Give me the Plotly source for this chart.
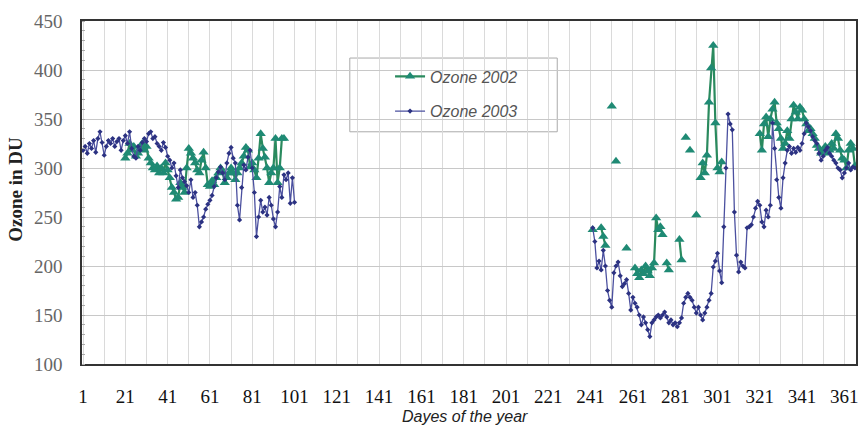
import plotly.graph_objects as go

# ---------------- data ----------------
# Ozone 2003 (days 1-101)
o3_left_start = 1
o3_left = [318, 322, 315, 325, 320, 328, 316, 330, 337, 326,
           313, 322, 328, 325, 330, 322, 327, 330, 318, 328,
           333, 325, 337, 320, 312, 310, 322, 318, 326, 330,
           327, 335, 337, 330, 332, 325, 322, 318, 326, 321,
           312, 308, 300, 305, 292, 280, 298, 290, 286, 282,
           275, 288, 270, 275, 262, 240, 245, 250, 258, 263,
           267, 272, 281, 290, 296, 301, 295, 288, 305, 315,
           321, 310, 305, 262, 247, 280, 303, 298, 311, 318,
           300, 275, 230, 250, 267, 255, 260, 252, 270, 262,
           248, 240, 255, 281, 270, 293, 288, 295, 264, 290, 265]
# Ozone 2003 (days 242-366)
o3_right_start = 242
o3_right = [239, 225, 198, 205, 196, 216, 200, 175, 165, 158,
            193, 200, 204, 190, 179, 182, 186, 172, 155, 168,
            162, 158, 150, 140, 148, 142, 135, 128, 142, 145,
            148, 150, 147, 150, 153, 148, 142, 145, 140, 142,
            138, 142, 147, 162, 168, 172, 168, 165, 158, 152,
            158, 150, 145, 152, 158, 165, 172, 199, 205, 213,
            195, 183, 240, 300, 355, 345, 339, 255, 211, 194,
            204, 200, 198, 239, 240, 242, 250, 259, 266, 262,
            245, 240, 257, 250, 262, 346, 320, 288, 270, 259,
            290, 305, 318, 322, 315, 320, 316, 321, 318, 325,
            335, 346, 342, 338, 332, 328, 325, 315, 308, 312,
            318, 321, 315, 312, 308, 305, 300, 298, 290, 295,
            300, 305, 298, 301, 300]

# Ozone 2002 (days 21-96)
o2_left_start = 21
o2_left = [310, 315, 325, 318, 322, 312, 315, 320, 325, 318,
           322, 310, 305, 300, 298, 302, 295, 300, 295, 305,
           298, 290, 280, 275, 268, 270, 285, 280, 275, 300,
           320, 315, 310, 305, 298, 295, 308, 316, 300, 283,
           281, 287, 283, 290, 295, 300, 296, 285, 290, 295,
           300, 295, 288, 295, 300, 305, 312, 321, 318, 301,
           305, 298, 290, 310, 335, 320, 311, 300, 285, 295,
           300, 330, 285, 300, 330, 330]
# Ozone 2002 (days 242-366), None = no measurement
o2_right_start = 242
o2_right = [237, None, None, None, 239, 230, 221, None, None, 363,
            None, 307, None, None, None, None, 218, None, None, None,
            198, 192, 188, 196, 192, 200, 195, 190, 198, 203,
            249, 237, 240, 232, None, 203, 196, None, None, None,
            None, 227, 206, None, 331, None, 318, None, None, 252,
            None, 290, 305, 295, 313, 367, 402, 425, 346, 300,
            296, 306, None, None, None, None, None, None, None, None,
            None, None, None, None, None, None, None, None, None, 335,
            318, 345, 352, 332, 350, 360, 367, 346, 340, 330,
            320, 325, 338, 330, 350, 364, 357, 350, 362, 359,
            350, 345, 338, 340, 335, 330, 323, 320, 315, 318,
            322, 315, 318, 325, 320, 335, 330, 318, 310, 308,
            300, 318, 325, 320, 302]

tick_days = list(range(1, 367, 10))
tick_labels = [str(d) if (d - 1) % 20 == 0 else "" for d in tick_days]

# ---------------- build series ----------------
def series(start_l, vals_l, start_r, vals_r):
    x = list(range(start_l, start_l + len(vals_l))) + [None] + \
        list(range(start_r, start_r + len(vals_r)))
    y = list(vals_l) + [None] + list(vals_r)
    return x, y

x2002, y2002 = series(o2_left_start, o2_left, o2_right_start, o2_right)
x2003, y2003 = series(o3_left_start, o3_left, o3_right_start, o3_right)

fig = go.Figure()
fig.add_trace(go.Scatter(
    x=x2002, y=y2002, name="Ozone 2002", mode="lines+markers",
    line=dict(color="#2a8a5e", width=2.2),
    marker=dict(symbol="triangle-up", size=9, color="#1f8a74"),
    connectgaps=False, legendgroup="a"))
fig.add_trace(go.Scatter(
    x=x2003, y=y2003, name="Ozone 2003", mode="lines+markers",
    line=dict(color="#4b509f", width=1.3),
    marker=dict(symbol="diamond", size=4, color="#2c3282"),
    connectgaps=False, legendgroup="b"))

serif = "Liberation Serif, Times New Roman, serif"
sans = "Liberation Sans, Arial, sans-serif"

fig.update_layout(
    width=862, height=428,
    margin=dict(l=82, r=6, t=21, b=64, autoexpand=False),
    paper_bgcolor="white", plot_bgcolor="white",
    showlegend=True,
    legend=dict(x=0.398, y=0.888, xanchor="left", yanchor="top",
                bgcolor="rgba(0,0,0,0)", borderwidth=0,
                traceorder="grouped", tracegroupgap=11,
                font=dict(family=sans, size=16, color="#555555", style="italic")),
    xaxis=dict(range=[0.5, 366.5], tickmode="array", tickvals=tick_days,
               ticktext=tick_labels, showgrid=True, gridcolor="#dadada",
               gridwidth=1, zeroline=False, ticks="outside", ticklen=14,
               tickcolor="rgba(0,0,0,0)", automargin=False,
               tickfont=dict(family=serif, size=19, color="#111111"),
               showline=True, linecolor="#333333", linewidth=1.5, mirror=True),
    yaxis=dict(range=[100, 450], dtick=50, showgrid=True, gridcolor="#c8c8c8",
               gridwidth=1, zeroline=False, ticks="outside", ticklen=14,
               tickcolor="rgba(0,0,0,0)", automargin=False,
               tickfont=dict(family=serif, size=19, color="#666666"),
               showline=True, linecolor="#333333", linewidth=1.5, mirror=True,
               minor=dict(dtick=10, ticks="inside", ticklen=3,
                          tickcolor="#aaaaaa", showgrid=False)),
    annotations=[
        dict(text="<i>Dayes of the year</i>", xref="paper", yref="paper",
             x=0.495, y=-0.152, xanchor="center", yanchor="middle",
             showarrow=False, font=dict(family=sans, size=16, color="#222222")),
        dict(text="<b>Ozone in DU</b>", xref="paper", yref="paper",
             x=-0.087, y=0.51, xanchor="center", yanchor="middle", textangle=-90,
             showarrow=False, font=dict(family=serif, size=19, color="#222222")),
    ],
    shapes=[dict(type="rect", xref="paper", yref="paper",
                 x0=0.346, x1=0.614, y0=0.677, y1=0.892,
                 line=dict(color="#aaaaaa", width=1),
                 fillcolor="white", layer="below")],
)

fig.write_html("out.html", config={"displayModeBar": False},
               post_script="document.body.style.margin='0px';"
                           "document.body.style.overflow='hidden';")
